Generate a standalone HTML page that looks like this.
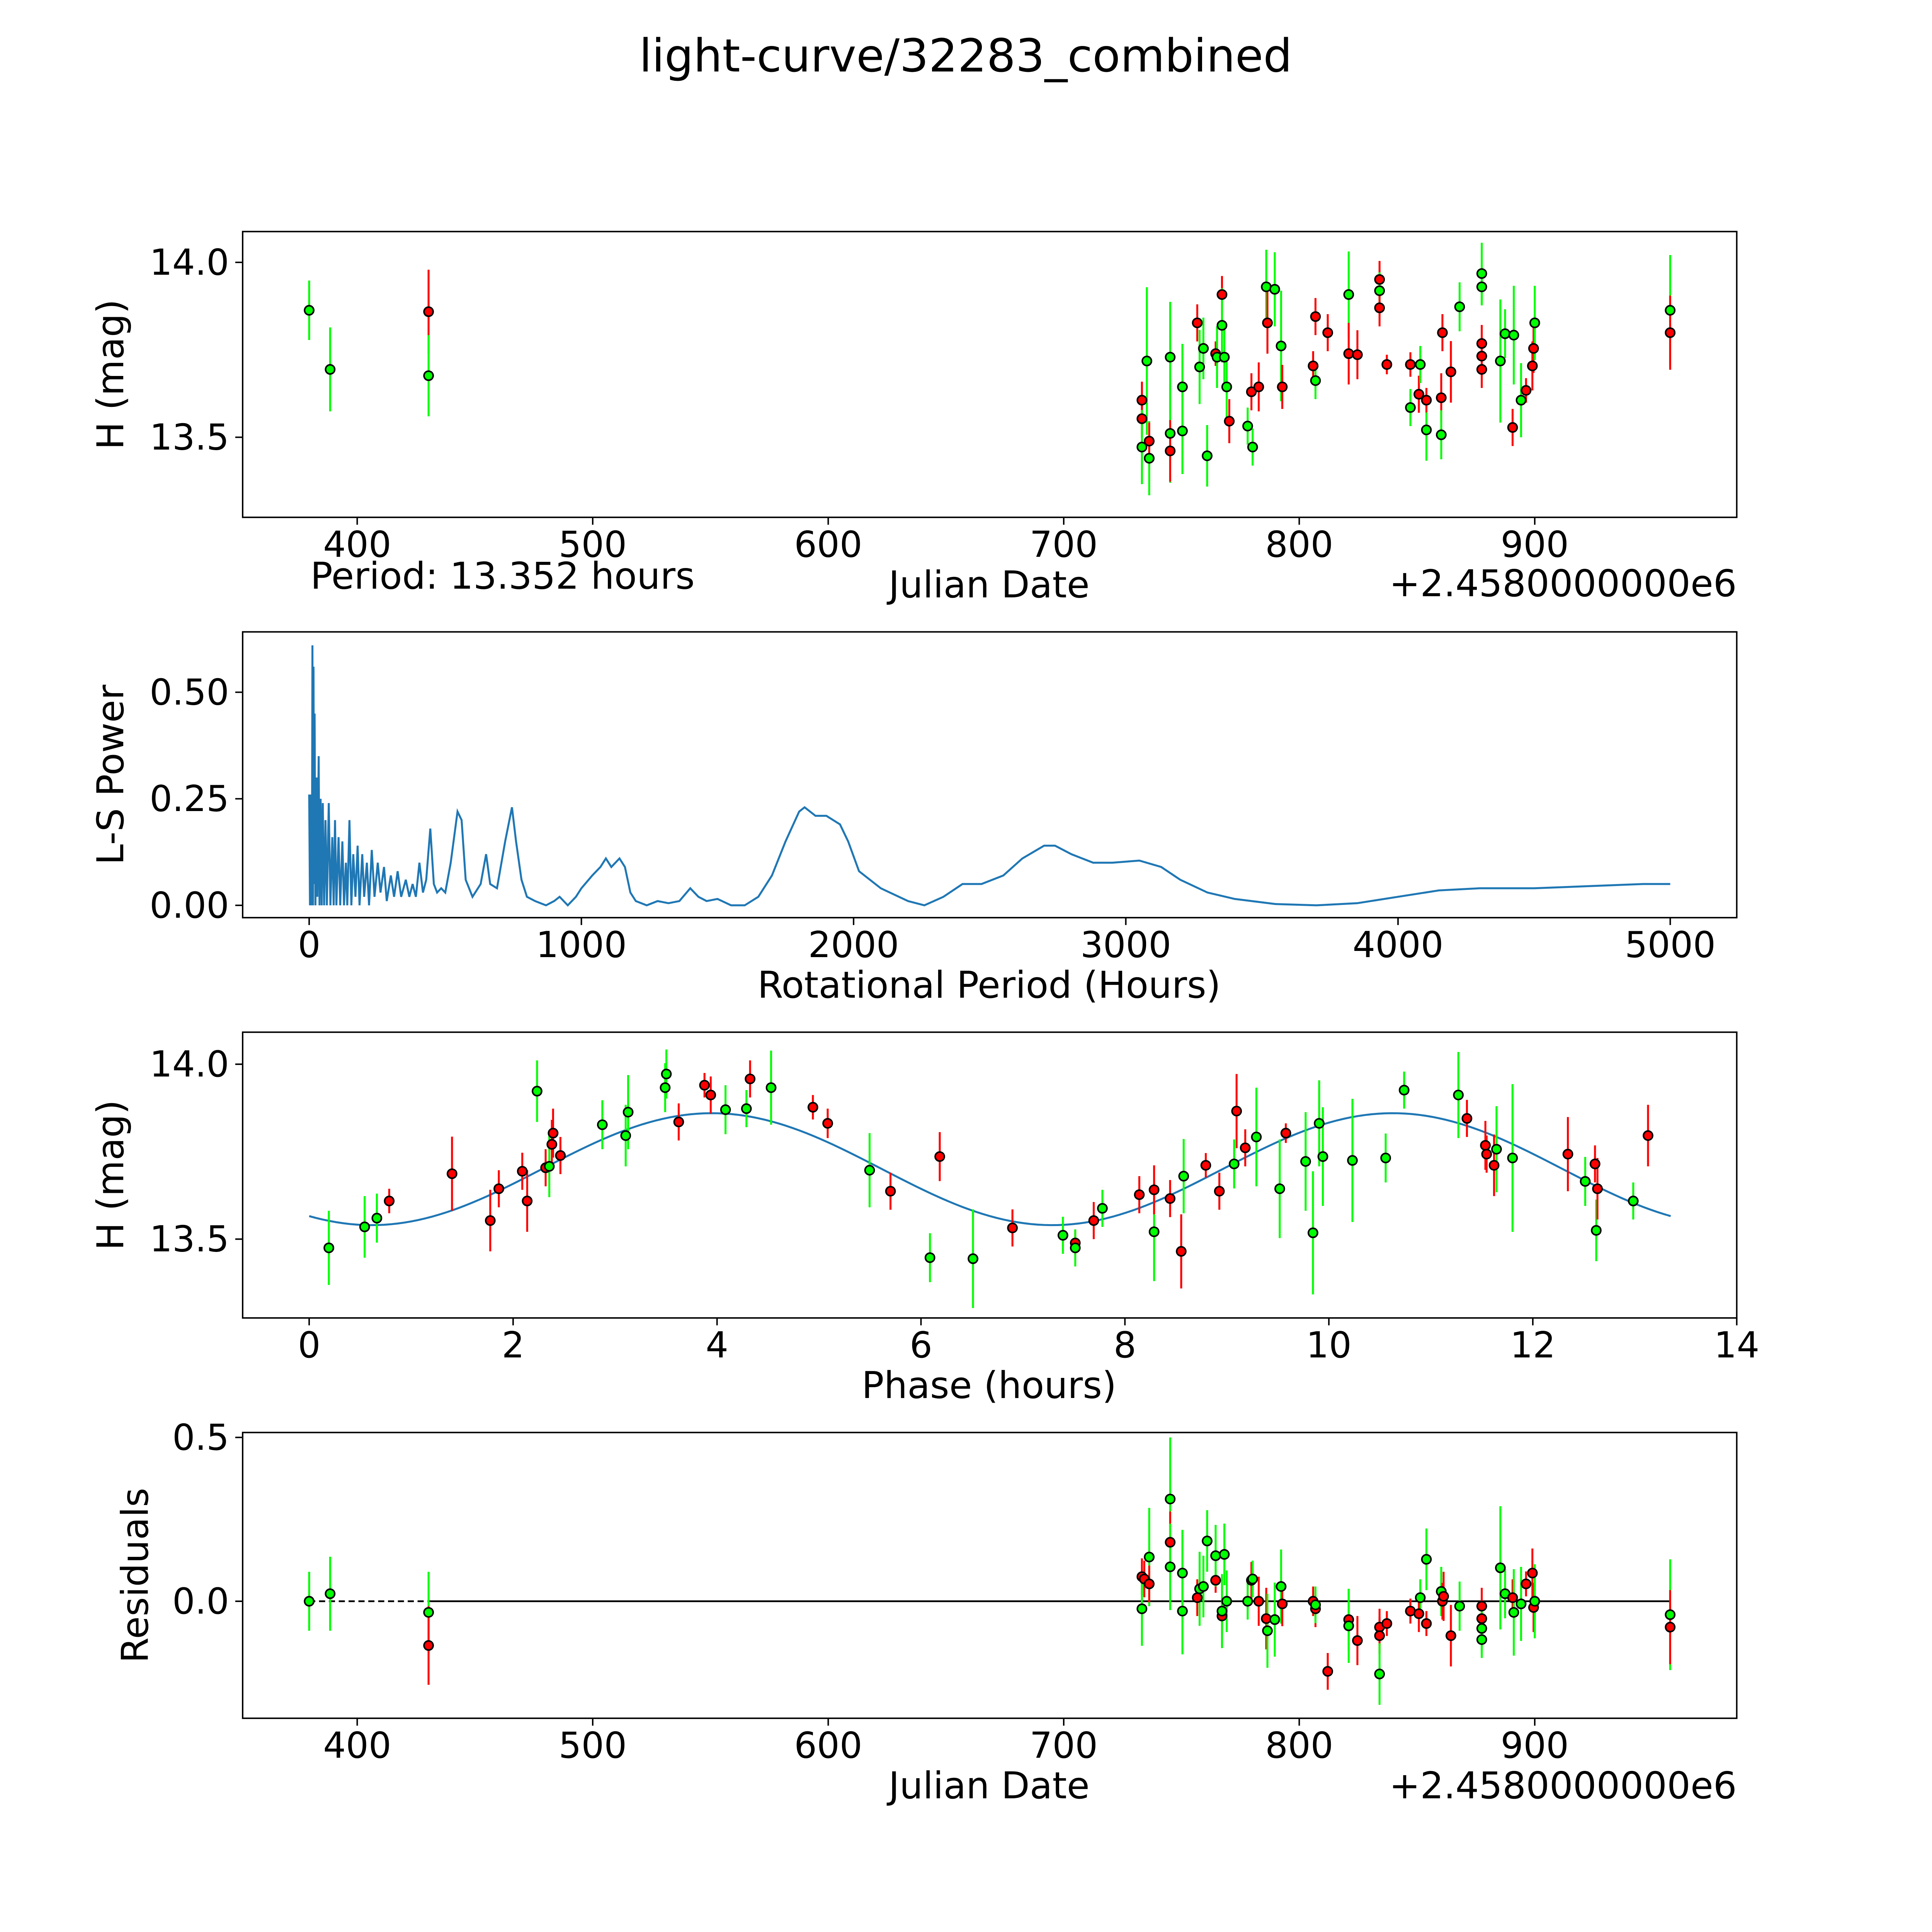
<!DOCTYPE html>
<html><head><meta charset="utf-8"><style>
html,body{margin:0;padding:0;background:#fff;overflow:hidden}
svg{display:block}
text{font-family:"DejaVu Sans","Liberation Sans",sans-serif;fill:#000}
</style></head><body>
<svg id="fig" xmlns="http://www.w3.org/2000/svg" width="5400" height="5400" viewBox="0 0 1694 1694">
<rect width="1694" height="1694" fill="#fff"/>
<text x="784" y="58" font-size="37" text-anchor="middle">light-curve/32283_combined</text>
</svg>
<script>
// ---- Panel 1: light curve vs date ----
const lcDate=[379.6,388.5,430.3,430.3,733.2,733.2,733.2,735.3,736.3,736.3,745.2,745.2,745.2,750.4,750.4,756.7,757.7,759.3,760.9,764.5,765.1,767.2,767.2,768.2,769.2,770.3,778.1,779.7,780.2,782.8,786.0,786.5,789.6,792.3,792.8,805.9,806.9,806.9,812.1,821.0,821.0,824.7,834.1,834.1,834.1,837.2,847.2,847.2,850.8,851.4,854.0,854.0,860.3,860.3,860.8,864.4,868.1,877.5,877.5,877.5,877.5,877.5,885.4,887.4,890.6,891.1,894.2,896.3,899.0,899.5,900.0,957.5,957.5];
const lcMag=[13.863,13.694,13.859,13.676,13.606,13.553,13.472,13.718,13.440,13.489,13.729,13.511,13.461,13.644,13.518,13.827,13.701,13.754,13.447,13.739,13.729,13.908,13.820,13.729,13.644,13.546,13.532,13.630,13.472,13.644,13.930,13.827,13.923,13.761,13.644,13.704,13.662,13.845,13.799,13.908,13.739,13.736,13.951,13.919,13.870,13.708,13.585,13.708,13.623,13.708,13.521,13.606,13.613,13.507,13.799,13.687,13.873,13.968,13.930,13.768,13.732,13.694,13.718,13.796,13.528,13.792,13.606,13.634,13.704,13.754,13.827,13.863,13.799];
const lcErr=[.085,.120,.120,.116,.053,.053,.106,.211,.106,.053,.158,.141,.088,.123,.123,.053,.106,.088,.088,.035,.088,.053,.106,.088,.088,.063,.053,.053,.053,.070,.106,.088,.106,.158,.063,.042,.053,.053,.053,.123,.088,.070,.053,.053,.053,.028,.053,.035,.053,.053,.088,.035,.070,.070,.053,.088,.070,.088,.053,.053,.053,.053,.176,.070,.053,.141,.106,.035,.070,.070,.106,.158,.106];
const lcFilt="GGRGRRGGGRGGRGGRGGGRGRGGGRGRGRGRGGRRGRRGRRRGRRGRRGGRRGRRGGGRRRGGRGGRRRGGR".split("");

// ---- Panel 2: periodogram ----
const lsPeriod=[0,3,6,10,12,14,16,18,20,23,27,30,35,38,42,46,50,55,60,65,72,78,85,90,95,100,108,114,122,128,135,140,148,155,162,170,178,185,195,202,212,220,230,240,252,262,275,285,300,312,325,338,355,368,380,392,405,418,430,445,458,470,485,500,520,545,560,575,600,630,650,665,690,720,745,760,780,800,830,870,900,920,950,980,1000,1040,1070,1090,1110,1140,1160,1180,1200,1240,1280,1320,1360,1400,1430,1460,1500,1550,1600,1650,1700,1750,1800,1820,1860,1900,1950,1980,2020,2100,2200,2260,2330,2400,2470,2550,2620,2700,2740,2800,2880,2950,3050,3130,3200,3300,3400,3550,3700,3850,4000,4150,4300,4500,4700,4900,5000];
const lsPower=[0.26,0,0.26,0,0.61,0,0.56,0.05,0.45,0,0.3,0.02,0.35,0,0.25,0,0.24,0,0.2,0,0.24,0,0.16,0,0.2,0,0.16,0,0.15,0,0.1,0,0.2,0,0.12,0.02,0.14,0,0.12,0.02,0.1,0,0.13,0.02,0.1,0.03,0.09,0.01,0.07,0.02,0.08,0.02,0.06,0.02,0.05,0.02,0.1,0.03,0.06,0.18,0.05,0.03,0.04,0.03,0.10,0.22,0.2,0.06,0.02,0.05,0.12,0.05,0.04,0.15,0.23,0.15,0.06,0.02,0.01,0,0.01,0.02,0,0.02,0.04,0.07,0.09,0.11,0.09,0.11,0.09,0.03,0.01,0,0.01,0.005,0.01,0.04,0.02,0.01,0.015,0,0,0.02,0.07,0.15,0.22,0.23,0.21,0.21,0.19,0.15,0.08,0.04,0.01,0,0.02,0.05,0.05,0.07,0.11,0.14,0.14,0.12,0.1,0.1,0.105,0.09,0.06,0.03,0.015,0.003,0,0.005,0.02,0.035,0.04,0.04,0.045,0.05,0.05];

// ---- Panel 3: phased light curve ----
const phPhase=[0.193,0.544,0.664,0.785,1.401,1.776,1.860,2.090,2.138,2.235,2.319,2.355,2.380,2.392,2.464,2.875,3.104,3.128,3.491,3.503,3.624,3.877,3.938,4.083,4.288,4.324,4.530,4.940,5.085,5.496,5.701,6.088,6.184,6.510,6.897,7.392,7.513,7.513,7.694,7.779,8.141,8.286,8.286,8.443,8.552,8.576,8.793,8.926,9.071,9.095,9.180,9.289,9.518,9.578,9.772,9.844,9.905,9.941,10.231,10.557,10.738,11.270,11.354,11.535,11.547,11.620,11.644,11.801,12.344,12.514,12.610,12.622,12.634,12.985,13.130];
const phMag=[13.475,13.535,13.560,13.609,13.687,13.553,13.644,13.694,13.609,13.923,13.704,13.708,13.771,13.803,13.739,13.827,13.796,13.863,13.933,13.972,13.835,13.940,13.912,13.870,13.873,13.958,13.933,13.877,13.831,13.697,13.637,13.447,13.736,13.444,13.532,13.511,13.489,13.475,13.553,13.588,13.627,13.521,13.641,13.616,13.465,13.680,13.711,13.637,13.715,13.866,13.761,13.792,13.644,13.803,13.722,13.518,13.831,13.736,13.725,13.732,13.926,13.912,13.845,13.768,13.743,13.711,13.757,13.732,13.743,13.665,13.715,13.525,13.644,13.609,13.796];
const phErr=[.106,.088,.070,.035,.106,.088,.053,.053,.088,.088,.053,.088,.070,.070,.053,.070,.088,.106,.070,.070,.053,.035,.053,.070,.053,.053,.106,.035,.042,.106,.053,.070,.070,.141,.053,.053,.035,.053,.053,.053,.053,.141,.070,.053,.106,.106,.035,.053,.070,.106,.053,.141,.141,.028,.141,.176,.123,.141,.176,.070,.053,.123,.053,.070,.053,.088,.123,.211,.106,.070,.053,.088,.088,.053,.088];
const phFilt="GGGRRRRRRGRGRRRGGGGGRRRGGRGRRGRGRGRGRGRGRGRRRGRRGRRGGRGGGGGGGGRRRRGGRGRGRGR".split("");
const modelMean=13.70, modelAmp=0.16, modelPeak=3.95, period=13.352;

// ---- Panel 4: residuals ----
const resDate=[379.6,388.5,430.3,430.3,733.2,733.2,734.2,736.3,736.3,745.2,745.2,745.2,750.4,750.4,756.7,757.7,759.3,760.9,764.5,764.5,767.2,767.2,768.2,769.2,778.1,779.7,780.2,782.8,786.0,786.5,789.6,792.3,792.8,805.9,806.9,806.9,812.1,821.0,821.0,824.7,834.1,834.1,834.1,837.2,847.2,851.4,850.8,854.0,854.0,860.3,860.8,861.3,864.4,868.1,877.5,877.5,877.5,877.5,885.4,887.4,890.6,891.1,894.2,896.3,899.0,899.5,900.0,957.5,957.5];
const resVal=[0,.023,-.034,-.135,.075,-.023,.068,.135,.053,.312,.180,.105,.086,-.030,.011,.038,.045,.184,.064,.139,-.045,-.030,.143,0,0,.064,.068,0,-.053,-.090,-.056,.045,-.008,0,-.023,-.011,-.214,-.056,-.075,-.120,-.079,-.105,-.222,-.068,-.030,.011,-.038,.128,-.068,.030,0,.015,-.105,-.015,-.015,-.053,-.083,-.117,.102,.023,.011,-.034,-.008,.053,.086,-.019,0,-.041,-.079];
const resErr=[.090,.113,.124,.120,.056,.113,.056,.150,.056,.188,.094,.132,.132,.132,.056,.113,.094,.094,.038,.094,.056,.113,.094,.094,.056,.056,.056,.075,.094,.113,.113,.113,.068,.045,.056,.056,.056,.094,.113,.075,.056,.056,.094,.038,.038,.056,.056,.094,.038,.075,.056,.075,.094,.075,.056,.056,.075,.056,.188,.075,.056,.132,.113,.038,.075,.075,.113,.169,.113];
const resFilt="GGGRRGRGRGRGGGRGGGRGRGGGGRGRRGGGRRRGRRGRRRGRRGRGRGRRRGRRGGGGRGGRRRGGR".split("");

const jdTicks=[400,500,600,700,800,900];
const magTicks=[13.5,14.0];
const lsXTicks=[0,1000,2000,3000,4000,5000];
const lsYTicks=[0,0.25,0.5];
const phXTicks=[0,2,4,6,8,10,12,14];
const resTicks=[0,0.5];

const NS="http://www.w3.org/2000/svg";
const svg=document.getElementById('fig');
function el(tag,attrs,parent){const e=document.createElementNS(NS,tag);for(const k in attrs)e.setAttribute(k,attrs[k]);(parent||svg).appendChild(e);return e;}
function lin(d0,d1,p0,p1){return v=>p0+(v-d0)*(p1-p0)/(d1-d0);}
const COL={G:'#00ff00',R:'#ff0000'};
const L=197,R=1410;
const TF=29, LF=30;

function frame(name,top,bot,xs,ys,xt,yt,xfmt,yfmt,xlabel,ylabel,ylx,xlabelY){
  const g=el('g',{});
  
  
  xt.forEach(t=>{const x=xs(t);
    const tk=el('line',{x1:x,x2:x,y1:bot,y2:bot+6,stroke:'#000','stroke-width':1.2},g);
    
    
    const tl=el('text',{x:x,y:bot+32,'font-size':TF,'text-anchor':'middle'},g);tl.textContent=xfmt(t);
    
    });
  yt.forEach(t=>{const y=ys(t);
    const tk=el('line',{x1:L-6,x2:L,y1:y,y2:y,stroke:'#000','stroke-width':1.2},g);
    
    
    const tl=el('text',{x:L-11,y:y+10,'font-size':TF,'text-anchor':'end'},g);tl.textContent=yfmt(t);
    
    });
  const xl=el('text',{x:803,y:xlabelY,'font-size':LF,'text-anchor':'middle'},g);xl.textContent=xlabel;
  
  
  const cy=(top+bot)/2;
  const yl=el('text',{x:ylx,y:cy,'font-size':LF,'text-anchor':'middle',transform:`rotate(-90 ${ylx} ${cy})`},g);yl.textContent=ylabel;
  
  
  return g;
}
function box(top,bot){const b=el('rect',{x:L,y:top,width:R-L,height:bot-top,fill:'none',stroke:'#000','stroke-width':1.2});
  
  }
function pts(xs,ys,X,Y,E,F,gname){
  const g=el('g',{});
  
  
  for(let i=0;i<X.length;i++){
    const l=el('line',{x1:xs(X[i]),x2:xs(X[i]),y1:ys(Y[i]-E[i]),y2:ys(Y[i]+E[i]),stroke:COL[F[i]]||'#00ff00','stroke-width':1.6},g);
    
    
  }
  for(let i=0;i<X.length;i++){
    const c=el('circle',{cx:xs(X[i]),cy:ys(Y[i]),r:3.7,fill:COL[F[i]]||'#00ff00',stroke:'#000','stroke-width':1.3},g);
    
    
  }
}
const fmt1=v=>v.toFixed(1), fmt2=v=>v.toFixed(2), fmt0=v=>String(v);

// Panel 1
const x1=lin(400,900,290,1246), y1=lin(14.0,13.5,213,355);
frame('light-curve-axes',188,420,x1,y1,jdTicks,magTicks,fmt0,fmt1,'Julian Date','H (mag)',100,485);
pts(x1,y1,lcDate,lcMag,lcErr,lcFilt,'light-curve-points');
box(188,420);
let t=el('text',{x:252,y:478,'font-size':LF});t.textContent='Period: 13.352 hours';


t=el('text',{x:1410,y:484,'font-size':LF,'text-anchor':'end'});t.textContent='+2.4580000000e6';



// Panel 2
const x2=lin(0,5000,251,1356), y2=lin(0,0.5,735,562);
frame('periodogram-axes',513,745,x2,y2,lsXTicks,lsYTicks,fmt0,fmt2,'Rotational Period (Hours)','L-S Power',100,810);
const pl=el('polyline',{points:lsPeriod.map((p,i)=>x2(p)+','+y2(lsPower[i])).join(' '),fill:'none',stroke:'#1f77b4','stroke-width':1.6});


box(513,745);

// Panel 3
const x3=lin(0,14,251,1410), y3=lin(14.0,13.5,864,1006);
frame('phase-axes',838,1070,x3,y3,phXTicks,magTicks,fmt0,fmt1,'Phase (hours)','H (mag)',100,1135);
const mp=[];for(let k=0;k<=200;k++){const p=period*k/200;mp.push(x3(p)+','+y3(modelMean+modelAmp*Math.cos(2*Math.PI*(p-modelPeak)/(period/2))));}
const ml=el('polyline',{points:mp.join(' '),fill:'none',stroke:'#1f77b4','stroke-width':1.6});


pts(x3,y3,phPhase,phMag,phErr,phFilt,'phase-points');
box(838,1070);

// Panel 4
const y4=lin(0,0.5,1300,1167);
frame('residuals-axes',1163,1395,x1,y4,jdTicks,resTicks,fmt0,fmt1,'Julian Date','Residuals',120,1460);
const zl1=el('line',{x1:x1(379.6),x2:x1(430.3),y1:y4(0),y2:y4(0),stroke:'#000','stroke-width':1.4,'stroke-dasharray':'5,3'});


const zl2=el('line',{x1:x1(430.3),x2:x1(957.5),y1:y4(0),y2:y4(0),stroke:'#000','stroke-width':1.4});


pts(x1,y4,resDate,resVal,resErr,resFilt,'residual-points');
box(1163,1395);
t=el('text',{x:1410,y:1460,'font-size':LF,'text-anchor':'end'});t.textContent='+2.4580000000e6';


</script>
</body></html>
